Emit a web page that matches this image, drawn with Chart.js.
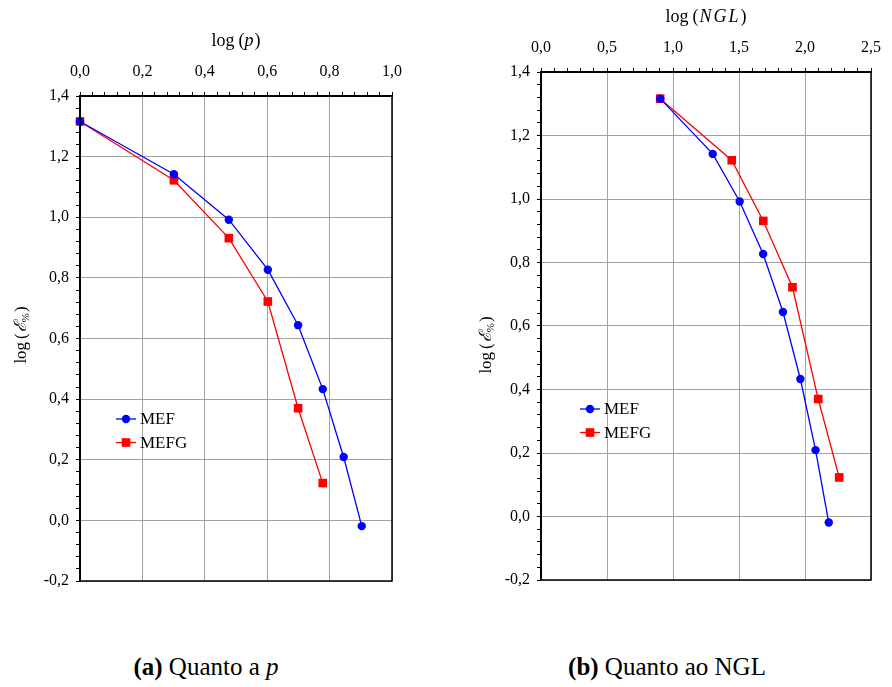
<!DOCTYPE html>
<html>
<head>
<meta charset="utf-8">
<script src="https://cdn.jsdelivr.net/npm/chart.js@4.4.1/dist/chart.umd.min.js"></script>
<style>
  body { margin: 0; background: #fff; }
  #wrap { position: relative; width: 892px; height: 687px; }
  canvas { position: absolute; top: 0; }
  .cap { position: absolute; top: 654px; font: 25px/1 "Liberation Serif", serif; color: #000; transform: translateX(-50%); white-space: nowrap; }
</style>
</head>
<body>
<div id="wrap">
  <canvas id="chartP" width="430" height="600" style="left:0"></canvas>
  <canvas id="chartNgl" width="446" height="600" style="left:446px"></canvas>
  <div class="cap" style="left:206px"><b>(a)</b> Quanto a <i>p</i></div>
  <div class="cap" style="left:667px"><b>(b)</b> Quanto ao NGL</div>
</div>
<script>
// (a) erro x log(p)
const logP = [0, 0.301, 0.477, 0.602, 0.699, 0.778, 0.845, 0.903];
const mefByP = [1.316, 1.142, 0.992, 0.827, 0.644, 0.433, 0.209, -0.019];
const logPG = [0, 0.301, 0.477, 0.602, 0.699, 0.778];
const mefgByP = [1.316, 1.122, 0.931, 0.722, 0.370, 0.123];

// (b) erro x log(NGL)
const logNglMef = [0.903, 1.301, 1.505, 1.683, 1.833, 1.965, 2.080, 2.180];
const mefByNgl = [1.316, 1.142, 0.992, 0.827, 0.644, 0.433, 0.209, -0.019];
const logNglMefg = [0.903, 1.445, 1.684, 1.905, 2.100, 2.259];
const mefgByNgl = [1.316, 1.122, 0.931, 0.722, 0.370, 0.123];

const serif = '"Liberation Serif", "Times New Roman", serif';

function pts(xs, ys) {
    return xs.map((x, i) => ({ x: x, y: ys[i] }));
}

function isMajor(v, step) {
    const r = v / step;
    return Math.abs(r - Math.round(r)) < 1e-6;
}

function fmt(v) {
    return v.toFixed(1).replace('.', ',');
}

// draws text made of several runs (italic, subscript...)
function drawRuns(ctx, runs, cx, cy) {
    let w = 0;
    runs.forEach(r => {
        ctx.font = r.font;
        w += ctx.measureText(r.t).width + (r.gap || 0);
    });
    let x = cx - w / 2;
    runs.forEach(r => {
        ctx.font = r.font;
        ctx.fillText(r.t, x, cy + (r.dy || 0));
        x += ctx.measureText(r.t).width + (r.gap || 0);
    });
}

const axisTitles = {
    id: 'axisTitles',
    afterDraw(chart, args, opts) {
        const ctx = chart.ctx, a = chart.chartArea;
        ctx.save();
        ctx.fillStyle = '#000';
        ctx.textBaseline = 'middle';
        ctx.textAlign = 'left';
        drawRuns(ctx, opts.xRuns, (a.left + a.right) / 2, a.top - 55);
        ctx.translate(opts.yTitleX, opts.yTitleY);
        ctx.rotate(-Math.PI / 2);
        drawRuns(ctx, opts.yRuns, 0, 0);
        ctx.restore();
    }
};

const frameAndLegend = {
    id: 'frameAndLegend',
    afterDraw(chart, args, opts) {
        const ctx = chart.ctx, a = chart.chartArea;
        ctx.save();
        ctx.strokeStyle = '#000';
        ctx.lineWidth = 1.5;
        ctx.strokeRect(a.left, a.top, a.right - a.left, a.bottom - a.top);

        // legend inside the plot
        chart.data.datasets.forEach((ds, i) => {
            const x0 = a.left + opts.dx, y = a.top + opts.dy + i * 23.5;
            ctx.strokeStyle = ds.borderColor;
            ctx.lineWidth = 1.3;
            ctx.beginPath();
            ctx.moveTo(x0, y);
            ctx.lineTo(x0 + 20, y);
            ctx.stroke();
            ctx.fillStyle = ds.backgroundColor;
            if (ds.pointStyle === 'rect') {
                ctx.fillRect(x0 + 10 - 4.3, y - 4.3, 8.6, 8.6);
            } else {
                ctx.beginPath();
                ctx.arc(x0 + 10, y, ds.pointRadius, 0, Math.PI * 2);
                ctx.fill();
            }
            ctx.fillStyle = '#000';
            ctx.font = '17px ' + serif;
            ctx.textBaseline = 'middle';
            ctx.fillText(ds.label, x0 + 24, y + 1);
        });
        ctx.restore();
    }
};

function linearAxis(min, max, minor, major, pos, fit) {
    return {
        type: 'linear',
        position: pos,
        min: min,
        max: max,
        afterFit: fit,
        afterBuildTicks: scale => {
            const ticks = [];
            const n = Math.round((max - min) / minor);
            for (let i = 0; i <= n; i++) ticks.push({ value: +(min + i * minor).toFixed(6) });
            scale.ticks = ticks;
        },
        ticks: {
            autoSkip: false,
            maxRotation: 0,
            padding: pos === 'top' ? 11 : 7,
            color: '#000',
            font: { family: serif, size: 16 },
            callback: v => isMajor(v, major) ? fmt(v) : ''
        },
        grid: {
            color: c => (c.tick && isMajor(c.tick.value, major)) ? '#a3a3a3' : 'rgba(0,0,0,0)',
            tickColor: '#000',
            tickLength: 4,
            lineWidth: 1
        },
        border: { color: '#000', width: 2 }
    };
}

function makeChart(id, sets, xCfg, layout, titles) {
    const ctx = document.getElementById(id).getContext('2d');
    return new Chart(ctx, {
        type: 'scatter',
        data: {
            datasets: [
                {
                    label: 'MEF',
                    data: sets.mef,
                    borderColor: '#0000ff',
                    backgroundColor: '#0000ff',
                    pointStyle: 'circle',
                    pointRadius: 4.2,
                    pointBorderWidth: 0,
                    borderWidth: 1.3,
                    showLine: true,
                    clip: false
                },
                {
                    label: 'MEFG',
                    data: sets.mefg,
                    borderColor: '#ff0000',
                    backgroundColor: '#ff0000',
                    pointStyle: 'rect',
                    pointRadius: 6.1,
                    pointBorderWidth: 0,
                    borderWidth: 1.3,
                    showLine: true,
                    clip: false
                }
            ]
        },
        options: {
            responsive: false,
            animation: false,
            devicePixelRatio: 1,
            layout: { padding: { left: 0, top: 0, right: layout.right, bottom: layout.bottom } },
            plugins: {
                legend: { display: false },
                tooltip: { enabled: false },
                axisTitles: titles,
                frameAndLegend: { dx: layout.legX, dy: layout.legY }
            },
            scales: {
                x: linearAxis(xCfg.min, xCfg.max, xCfg.minor, xCfg.major, 'top', s => { s.height = layout.top; }),
                y: linearAxis(-0.2, 1.4, 0.04, 0.2, 'left', s => { s.width = layout.left; })
            }
        },
        plugins: [axisTitles, frameAndLegend]
    });
}

const yRuns = [
    { t: 'log', font: '17px ' + serif, gap: 3 },
    { t: '(', font: '17px ' + serif, gap: 1 },
    { t: 'ℰ', font: 'italic 17px ' + serif },
    { t: '%', font: '11px ' + serif, dy: 4, gap: 1 },
    { t: ')', font: '17px ' + serif }
];

makeChart('chartP',
    { mef: pts(logP, mefByP), mefg: pts(logPG, mefgByP) },
    { min: 0, max: 1, minor: 0.04, major: 0.2 },
    { left: 80, top: 96, right: 38, bottom: 19, legX: 36, legY: 323 },
    {
        xRuns: [
            { t: 'log', font: '18px ' + serif, gap: 4 },
            { t: '(', font: '18px ' + serif },
            { t: 'p', font: 'italic 18px ' + serif, gap: 1 },
            { t: ')', font: '18px ' + serif }
        ],
        yRuns: yRuns, yTitleX: 22, yTitleY: 335
    });

makeChart('chartNgl',
    { mef: pts(logNglMef, mefByNgl), mefg: pts(logNglMefg, mefgByNgl) },
    { min: 0, max: 2.5, minor: 0.1, major: 0.5 },
    { left: 95, top: 72, right: 12, bottom: 20, legX: 39, legY: 337 },
    {
        xRuns: [
            { t: 'log', font: '18px ' + serif, gap: 4 },
            { t: '(', font: '18px ' + serif, gap: 1 },
            { t: 'N', font: 'italic 18px ' + serif, gap: 2 },
            { t: 'G', font: 'italic 18px ' + serif, gap: 2 },
            { t: 'L', font: 'italic 18px ' + serif, gap: 2 },
            { t: ')', font: '18px ' + serif }
        ],
        yRuns: yRuns, yTitleX: 41, yTitleY: 345
    });
</script>
</body>
</html>
